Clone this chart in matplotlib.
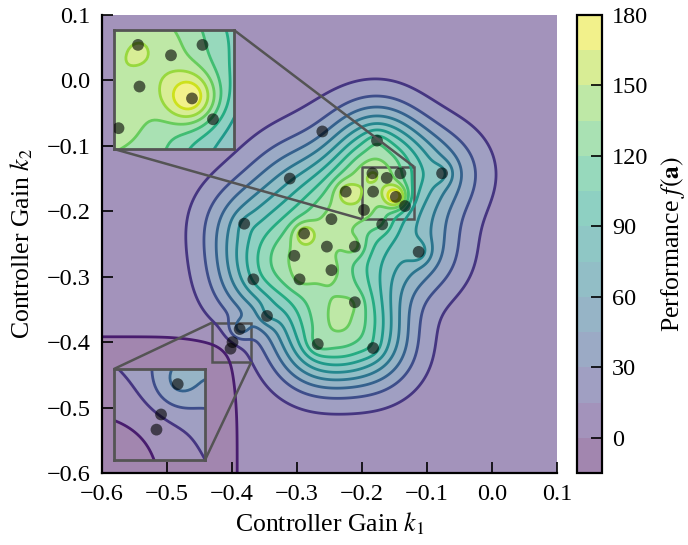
import numpy as np
import matplotlib
matplotlib.use("Agg")
import matplotlib.pyplot as plt
from matplotlib.colors import Normalize
from mpl_toolkits.axes_grid1.inset_locator import mark_inset

plt.rcParams['font.family'] = ['Liberation Serif', 'DejaVu Serif']
plt.rcParams['mathtext.fontset'] = 'stix'

# Sampled controller gains and the measured performance at each sample
k1 = np.array([-0.261, -0.177, -0.311, -0.184, -0.162, -0.141, -0.077, -0.225,
               -0.183, -0.148, -0.134, -0.197, -0.247, -0.169, -0.381, -0.289,
               -0.254, -0.211, -0.113, -0.304, -0.247, -0.296, -0.367, -0.211,
               -0.346, -0.268, -0.183, -0.388, -0.399, -0.402])
k2 = np.array([-0.078, -0.092, -0.150, -0.142, -0.149, -0.142, -0.142, -0.170,
               -0.170, -0.178, -0.192, -0.198, -0.212, -0.220, -0.219, -0.234,
               -0.254, -0.254, -0.262, -0.268, -0.290, -0.304, -0.304, -0.339,
               -0.360, -0.403, -0.409, -0.380, -0.400, -0.410])
perf = np.array([42, 115, 72, 151, 143, 122, 80, 158,
                 143, 180, 112, 144, 140, 120, 80, 160,
                 137, 139, 85, 138, 140, 138, 92, 134,
                 75, 125, 100, 50, 12, 6])

# Contour levels and ticks
levels = np.arange(-15, 181, 15)
cbar_ticks = [0, 30, 60, 90, 120, 150, 180]
x_ticks = [-0.6, -0.5, -0.4, -0.3, -0.2, -0.1, 0.0, 0.1]
y_ticks = [-0.6, -0.5, -0.4, -0.3, -0.2, -0.1, 0.0, 0.1]

# Surrogate surface: constant offset, a low basin in the lower-left
# corner and a non-negative mix of broad and narrow Gaussian bumps
# fitted to the samples.
offset = 5.0
basin_depth = 20.0
basin_corner = (-0.405, -0.405)
basin_width = 0.012
broad_scale = 0.05
narrow_scale = 0.013


def basin(x, y):
    sx = 1.0 / (1.0 + np.exp((x - basin_corner[0]) / basin_width))
    sy = 1.0 / (1.0 + np.exp((y - basin_corner[1]) / basin_width))
    return -basin_depth * sx * sy


def bumps(px, py):
    d2 = (px[:, None] - k1[None, :]) ** 2 + (py[:, None] - k2[None, :]) ** 2
    return np.hstack([np.exp(-0.5 * d2 / broad_scale ** 2),
                      np.exp(-0.5 * d2 / narrow_scale ** 2)])


A = bumps(k1, k2)
target = perf - offset - basin(k1, k2)
reg = np.r_[np.full(len(k1), 0.01), np.full(len(k1), 0.05)]
L = np.linalg.norm(A, 2) ** 2 + reg.max()
w = np.zeros(A.shape[1])
z = w.copy()
t = 1.0
for _ in range(30000):
    grad = A.T @ (A @ z - target) + reg * z
    w_new = np.maximum(0.0, z - grad / L)
    t_new = 0.5 * (1 + np.sqrt(1 + 4 * t * t))
    z = w_new + (t - 1) / t_new * (w_new - w)
    w, t = w_new, t_new

gx = np.linspace(-0.6, 0.1, 401)
GX, GY = np.meshgrid(gx, gx)
Z = offset + basin(GX, GY) + (bumps(GX.ravel(), GY.ravel()) @ w).reshape(GX.shape)
Z = np.clip(Z, levels[0] + 0.01, levels[-1] - 0.01)

norm = Normalize(vmin=levels[0], vmax=levels[-1])
cmap = plt.get_cmap('viridis')

fig = plt.figure(figsize=(6.88, 5.45), dpi=100)
ax = fig.add_axes([0.1478, 0.1321, 0.6622, 0.8404])


def draw_surface(a):
    cf = a.contourf(GX, GY, Z, levels=levels, cmap=cmap, norm=norm, alpha=0.5)
    a.contour(GX, GY, Z, levels=levels, cmap=cmap, norm=norm, linewidths=2.0)
    a.scatter(k1, k2, s=72, color='k', alpha=0.6, edgecolors='none', zorder=5)
    return cf


def minus(v):
    return f"{v:.1f}".replace('-', '\u2212')


cf = draw_surface(ax)
ax.set_xlim(-0.6, 0.1)
ax.set_ylim(-0.6, 0.1)
ax.set_xticks(x_ticks)
ax.set_yticks(y_ticks)
ax.set_xticklabels([minus(t) for t in x_ticks])
ax.set_yticklabels([minus(t) for t in y_ticks])
ax.tick_params(direction='in', length=8, width=1.2, labelsize=17.5, pad=8)
for s in ('top', 'right'):
    ax.spines[s].set_visible(False)
for s in ('left', 'bottom'):
    ax.spines[s].set_linewidth(1.6)
ax.set_xlabel('Controller Gain $k_1$', fontsize=18.5, labelpad=4)
ax.set_ylabel('Controller Gain $k_2$', fontsize=18.5, labelpad=8)

# Zoomed views
ins1 = fig.add_axes([0.1657, 0.7266, 0.1744, 0.2183])
draw_surface(ins1)
ins1.set_xlim(-0.200, -0.120)
ins1.set_ylim(-0.212, -0.132)
ins2 = fig.add_axes([0.1657, 0.1560, 0.1323, 0.1670])
draw_surface(ins2)
ins2.set_xlim(-0.430, -0.370)
ins2.set_ylim(-0.430, -0.370)
for ins in (ins1, ins2):
    ins.set_xticks([])
    ins.set_yticks([])
    for sp in ins.spines.values():
        sp.set_edgecolor('0.33')
        sp.set_linewidth(2.0)
mark_inset(ax, ins1, loc1=1, loc2=3, fc='none', ec='0.33', lw=1.8)
mark_inset(ax, ins2, loc1=2, loc2=4, fc='none', ec='0.33', lw=1.8)

# Colour bar
cax = fig.add_axes([0.8391, 0.1321, 0.0363, 0.8404])
cb = fig.colorbar(cf, cax=cax, ticks=cbar_ticks)
cb.outline.set_linewidth(1.6)
cax.tick_params(direction='in', length=8, width=1.2, labelsize=17.5, pad=7)
cb.set_label('Performance $f(\\mathbf{a})$', fontsize=18.5, labelpad=8)

fig.savefig('out.png', dpi=100)
